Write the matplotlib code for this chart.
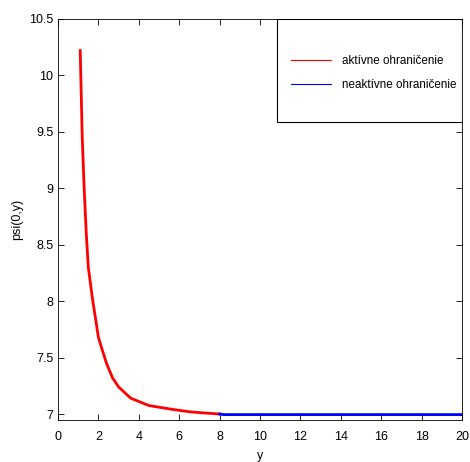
import matplotlib
matplotlib.use('Agg')
import matplotlib.pyplot as plt
from matplotlib.lines import Line2D
from matplotlib.patches import Rectangle

plt.rcParams['font.family'] = ['Liberation Sans', 'DejaVu Sans']

# aktivne ohranicenie (red)
y_active = [1.1, 1.2, 1.3, 1.4, 1.5, 1.7, 2.0, 2.1, 2.4, 2.7, 3.0, 3.6, 4.5, 5.7, 6.5, 7.2, 8.0]
psi_active = [10.22, 9.45, 8.98, 8.6, 8.3, 8.03, 7.68, 7.62, 7.45, 7.32, 7.24, 7.14, 7.075, 7.04, 7.02, 7.01, 7.0]

# neaktivne ohranicenie (blue)
y_inactive = [8.0, 8.2, 10.0, 12.0, 14.0, 16.0, 18.0, 20.0]
psi_inactive = [7.0, 6.995, 6.995, 6.995, 6.995, 6.995, 6.995, 6.995]

fig = plt.figure(figsize=(4.7, 4.62), dpi=100)
ax = fig.add_axes([0.1234, 0.0909, 0.8596, 0.868])

ax.plot(y_active, psi_active, color='red', lw=2)
ax.plot(y_inactive, psi_inactive, color='blue', lw=2)

ax.set_xlim(0, 20)
ax.set_ylim(6.947, 10.5)
ax.set_xticks(range(0, 21, 2))
ax.set_yticks([7, 7.5, 8, 8.5, 9, 9.5, 10, 10.5])
ax.set_yticklabels(['7', '7.5', '8', '8.5', '9', '9.5', '10', '10.5'])
ax.tick_params(direction='in', length=4, labelsize=9, width=0.6,
               top=True, right=True)
ax.tick_params(axis='x', pad=8)
for s in ax.spines.values():
    s.set_linewidth(0.6)
ax.set_xlabel('y', fontsize=9, labelpad=5)
ax.set_ylabel('psi(0,y)', fontsize=9)

# legend frame (MATLAB style box in top-right corner)
ax.add_patch(Rectangle((0.542, 0.743), 0.458, 0.257, transform=ax.transAxes,
                       facecolor='white', edgecolor='black', lw=0.8, zorder=5))
handles = [Line2D([], [], color='red', lw=0.8), Line2D([], [], color='blue', lw=0.8)]
leg = ax.legend(handles, ['aktívne ohraničenie', 'neaktívne ohraničenie'],
                loc='center left', bbox_to_anchor=(0.577, 0.865),
                borderaxespad=0, borderpad=0, fontsize=8.4, frameon=False,
                labelspacing=1.05, handlelength=3.4, handletextpad=1.0)
leg.set_zorder(6)

fig.savefig('out.png', dpi=100)
